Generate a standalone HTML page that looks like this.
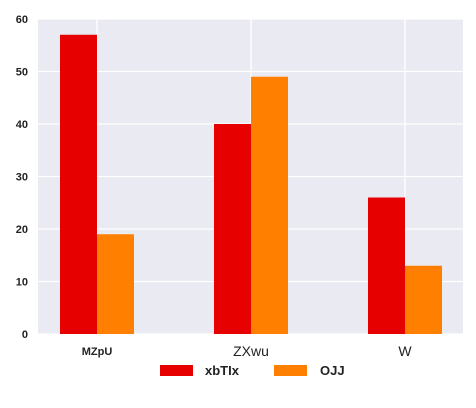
<!DOCTYPE html>
<html><head><meta charset="utf-8"><style>
body{margin:0;background:#fff;}
svg{display:block;font-family:"Liberation Sans",sans-serif;}
</style></head><body>
<svg width="476" height="408" id="chart">
<rect x="38" y="19" width="425" height="315" fill="#eaeaf2"/>
<g id="grid"></g><g id="bars"></g><g id="axes"></g>
<g>
<rect x="160" y="365" width="33" height="11" fill="#e60000"/>
<text x="205" y="375" font-size="13" font-weight="bold" fill="#222">xbTIx</text>
<rect x="274" y="365" width="33" height="11" fill="#ff7f00"/>
<text x="320" y="375" font-size="13" font-weight="bold" fill="#222">OJJ</text>
</g>
</svg>
<script>
const categories=["MZpU","ZXwu","W"];
const seriesA=[57,40,26];
const seriesB=[19,49,13];
const yTicks=[0,10,20,30,40,50,60];
const NS="http://www.w3.org/2000/svg";
const y=v=>334-v*5.25;
const xc=i=>97+i*154;
const bw=37;
function mk(tag,attrs,parent,text){const e=document.createElementNS(NS,tag);for(const k in attrs)e.setAttribute(k,attrs[k]);if(text!==undefined)e.textContent=text;document.getElementById(parent).appendChild(e);return e;}
yTicks.forEach(t=>{
 const l=mk('line',{x1:38,x2:463,y1:y(t),y2:y(t),stroke:'#fff','stroke-width':1.3},'grid');
 
 
 const tx=mk('text',{x:28,y:y(t)+4,'text-anchor':'end','font-size':11,'font-weight':'bold',fill:'#222'},'axes',t);
 
 
});
categories.forEach((c,i)=>{
 const l=mk('line',{x1:xc(i),x2:xc(i),y1:19,y2:334,stroke:'#fff','stroke-width':1.3},'grid');
 
 
 const a=mk('rect',{x:xc(i)-bw,y:y(seriesA[i]),width:bw,height:334-y(seriesA[i]),fill:'#e60000'},'bars');
 
 
 const b=mk('rect',{x:xc(i),y:y(seriesB[i]),width:bw,height:334-y(seriesB[i]),fill:'#ff7f00'},'bars');
 
 
 const bold=i===0;
 const tx=mk('text',{x:xc(i),y:bold?355:356,'text-anchor':'middle','font-size':bold?11:14,'font-weight':bold?'bold':'normal',fill:'#222'},'axes',c);
 
 
});
</script>
</body></html>
